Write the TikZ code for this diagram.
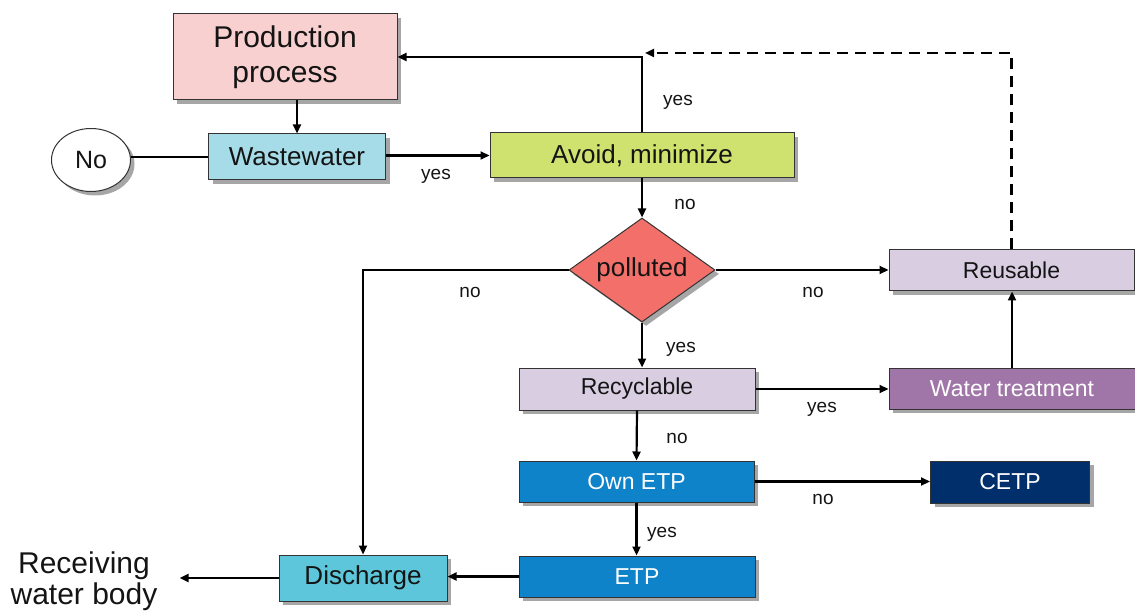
\documentclass[tikz,border=0pt]{standalone}
\usepackage{fontspec}
\setmainfont{Liberation Sans}
\usetikzlibrary{arrows.meta,shapes.geometric,shadows}
\newcommand\fsz[2]{\fontsize{#1}{#2}\selectfont}
\definecolor{prodc}{HTML}{F9D0D0}
\definecolor{wastec}{HTML}{A5DCE8}
\definecolor{avoidc}{HTML}{CFE26F}
\definecolor{pollc}{HTML}{F3706A}
\definecolor{lavc}{HTML}{D9CDE1}
\definecolor{wtc}{HTML}{A076A8}
\definecolor{bluec}{HTML}{0F83C9}
\definecolor{cetpc}{HTML}{012F6C}
\definecolor{dischc}{HTML}{5EC6DA}
\definecolor{textc}{HTML}{141414}
\tikzset{
  shad/.style={drop shadow={shadow xshift=4pt,shadow yshift=-4pt,fill=black,opacity=0.35}},
  boxn/.style={draw=black!80,line width=1pt,inner sep=0pt,text=textc,shad,font=\fsz{23}{27}},
  lbl/.style={font=\fsz{19}{22},text=textc,inner sep=0pt},
  conn/.style={line width=2.2pt,draw=black},
  arr/.style={conn,-{Triangle[length=9pt,width=8pt]}},
  dasharr/.style={arr,dash pattern=on 11pt off 7pt}
}
\begin{document}
\begin{tikzpicture}[x=1pt,y=-1pt]
\useasboundingbox (0,0) rectangle (1135,612);
% nodes
\node[boxn,fill=prodc,minimum width=224pt,minimum height=86pt,align=center,font=\fsz{30}{35}] (prod) at (285,57) {Production\\process};
\node[boxn,fill=wastec,minimum width=177pt,minimum height=46pt,font=\fsz{26}{30}] (waste) at (297,157) {Wastewater};
\node[boxn,ellipse,fill=white,minimum width=79pt,minimum height=63pt,font=\fsz{25}{30}] (noell) at (91,160) {No};
\node[boxn,fill=avoidc,minimum width=304pt,minimum height=45pt,font=\fsz{26}{30}] (avoid) at (642,155.5) {Avoid, minimize};
\node[boxn,diamond,aspect=1.4,fill=pollc,minimum width=146pt,minimum height=104pt,font=\fsz{26}{30}] (poll) at (642,270) {polluted};
\node[boxn,fill=lavc,minimum width=245pt,minimum height=41pt] (reuse) at (1011.5,270.5) {Reusable};
\node[boxn,fill=lavc,minimum width=236pt,minimum height=42pt] (recyc) at (637,389) {Recyclable};
\node[boxn,fill=wtc,text=white,minimum width=246pt,minimum height=41pt] (wt) at (1012,388.5) {Water treatment};
\node[boxn,fill=bluec,text=white,minimum width=235pt,minimum height=41pt] (own) at (636.5,481.5) {Own ETP};
\node[boxn,fill=cetpc,text=white,minimum width=159pt,minimum height=42pt] (cetp) at (1010,482) {CETP};
\node[boxn,fill=bluec,text=white,minimum width=236pt,minimum height=41pt] (etp) at (637,576.5) {ETP};
\node[boxn,fill=dischc,minimum width=168pt,minimum height=46pt,font=\fsz{26}{30}] (disch) at (363,578) {Discharge};
\node[align=center,font=\fsz{30}{31},text=textc,inner ysep=0pt,inner xsep=22pt] (recv) at (84,581) {Receiving\\water body};
% labels
\node[lbl] (l1) at (436,176) {yes};
\node[lbl] (l2) at (678,102) {yes};
\node[lbl] (l3) at (685,204) {no};
\node[lbl] (l4) at (470,292) {no};
\node[lbl] (l5) at (813,292) {no};
\node[lbl] (l6) at (681,349) {yes};
\node[lbl] (l7) at (822,409) {yes};
\node[lbl] (l8) at (677,438) {no};
\node[lbl] (l9) at (823,499) {no};
\node[lbl] (l10) at (662,534) {yes};
\coordinate (dj) at (645,53);
% connectors
\draw[arr] (prod.south -| waste.north) -- (waste.north);
\draw[conn] (waste.west) -- (waste.west -| noell.east);
\draw[arr] (waste.east |- avoid.west) -- (avoid.west);
\draw[arr] (avoid.north) -- (avoid.north |- prod.east) -- (prod.east);
\draw[dasharr] (reuse.north) -- (reuse.north |- dj) -- (dj);
\draw[arr] (avoid.south) -- (poll.north);
\draw[arr] (poll.west) -| (disch.north);
\draw[arr] (poll.east) -- (poll.east -| reuse.west);
\draw[arr] (poll.south) -- (poll.south |- recyc.north);
\draw[arr] (recyc.east) -- (recyc.east -| wt.west);
\draw[arr] (wt.north) -- (wt.north |- reuse.south);
\draw[arr] (recyc.south) -- (own.north);
\draw[arr] (own.east) -- (own.east -| cetp.west);
\draw[arr] (own.south) -- (own.south |- etp.north);
\draw[arr] (etp.west) -- (etp.west -| disch.east);
\draw[arr] (disch.west) -- (disch.west -| recv.east);
\end{tikzpicture}
\end{document}
